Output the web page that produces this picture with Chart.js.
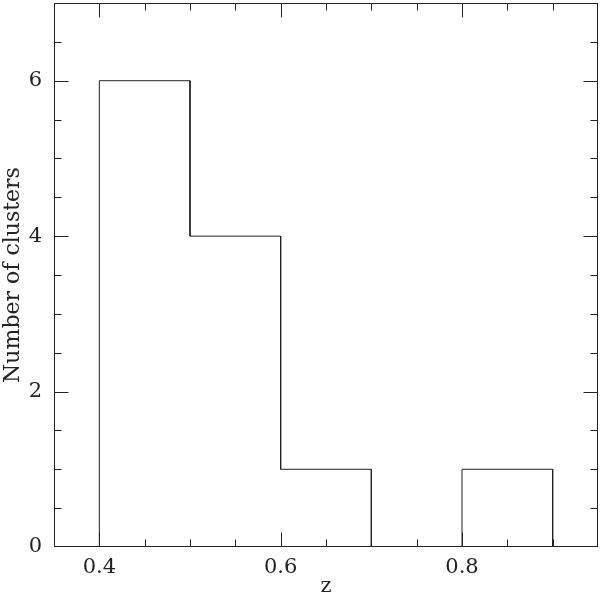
<!DOCTYPE html>
<html lang="en">
<head>
    <meta charset="UTF-8">
    <title>Number of clusters vs z</title>
    <style>
        * { box-sizing: border-box; }
        html, body {
            margin: 0;
            padding: 0;
            background: #ffffff;
            overflow: hidden;
        }
        .chart-container {
            width: 600px;
            height: 594px;
        }
    </style>
</head>
<body>
<div class="chart-container">
    <canvas id="histChart" width="600" height="594"></canvas>
</div>

<script src="https://cdn.jsdelivr.net/npm/chart.js"></script>
<script>
    // Histogram data: bin edges in z and cluster counts per bin
    const binEdges = [0.4, 0.5, 0.6, 0.7, 0.8, 0.9];
    const clusterCounts = [6, 4, 1, 0, 1];

    // Axis ticks
    const xMajorTicks = [0.4, 0.6, 0.8];
    const xMinorTicks = [0.35, 0.45, 0.5, 0.55, 0.65, 0.7, 0.75, 0.85, 0.9, 0.95];
    const yMajorTicks = [0, 2, 4, 6];
    const yMinorTicks = [0.5, 1, 1.5, 2.5, 3, 3.5, 4.5, 5, 5.5, 6.5];

    const inkColor = '#222222';
    const serifFont = "'DejaVu Serif', 'Liberation Serif', serif";

    // Turn the bins into an outline (vertical edges + flat tops)
    const outline = [{ x: binEdges[0], y: 0 }];
    for (let i = 0; i < clusterCounts.length; i++) {
        outline.push({ x: binEdges[i], y: clusterCounts[i] });
        outline.push({ x: binEdges[i + 1], y: clusterCounts[i] });
    }
    outline.push({ x: binEdges[binEdges.length - 1], y: 0 });

    // Box around the plot with inward ticks on all four sides
    const framePlugin = {
        id: 'frame',
        afterDatasetsDraw(chart) {
            const ctx = chart.ctx;
            const area = chart.chartArea;
            const xs = chart.scales.x;
            const ys = chart.scales.y;
            const major = 14, minor = 7;
            const left = area.left + 0.5, right = area.right - 0.5;
            const top = area.top + 0.5, bottom = area.bottom - 0.5;
            ctx.save();
            ctx.strokeStyle = inkColor;
            ctx.lineWidth = 1;
            ctx.strokeRect(left, top, right - left, bottom - top);
            ctx.beginPath();
            const xTick = (v, len) => {
                const px = Math.min(Math.round(xs.getPixelForValue(v)) + 0.5, right);
                ctx.moveTo(px, bottom); ctx.lineTo(px, bottom - len);
                ctx.moveTo(px, top); ctx.lineTo(px, top + len);
            };
            const yTick = (v, len) => {
                const py = Math.min(Math.round(ys.getPixelForValue(v)) + 0.5, bottom);
                ctx.moveTo(left, py); ctx.lineTo(left + len, py);
                ctx.moveTo(right, py); ctx.lineTo(right - len, py);
            };
            xMajorTicks.forEach(v => xTick(v, major));
            xMinorTicks.forEach(v => xTick(v, minor));
            yMajorTicks.forEach(v => yTick(v, major));
            yMinorTicks.forEach(v => yTick(v, minor));
            ctx.stroke();
            ctx.restore();
        }
    };

    const histCtx = document.getElementById('histChart').getContext('2d');
    const histChart = new Chart(histCtx, {
        type: 'line',
        data: {
            datasets: [{
                label: 'Clusters',
                data: outline,
                borderColor: inkColor,
                borderWidth: 1,
                pointRadius: 0,
                tension: 0,
                fill: false
            }]
        },
        options: {
            responsive: false,
            animation: false,
            layout: { padding: { top: 3, right: 2, left: 0, bottom: 0 } },
            plugins: {
                legend: { display: false },
                tooltip: { enabled: false }
            },
            scales: {
                x: {
                    type: 'linear',
                    min: 0.35,
                    max: 0.95,
                    grid: { display: false, drawTicks: false },
                    border: { display: false },
                    afterBuildTicks: (scale) => {
                        scale.ticks = xMajorTicks.map(v => ({ value: v }));
                    },
                    afterFit: (scale) => {
                        scale.height = 47;
                        scale.paddingLeft = 0;
                        scale.paddingRight = 0;
                    },
                    ticks: {
                        color: inkColor,
                        padding: 8,
                        font: { family: serifFont, size: 21 },
                        callback: (v) => v.toFixed(1)
                    },
                    title: {
                        display: true,
                        text: 'z',
                        color: inkColor,
                        padding: { top: 0, bottom: -5 },
                        font: { family: serifFont, size: 21 }
                    }
                },
                y: {
                    min: 0,
                    max: 7,
                    grid: { display: false, drawTicks: false },
                    border: { display: false },
                    afterBuildTicks: (scale) => {
                        scale.ticks = yMajorTicks.map(v => ({ value: v }));
                    },
                    afterFit: (scale) => {
                        scale.width = 54;
                        scale.paddingTop = 0;
                        scale.paddingBottom = 0;
                    },
                    ticks: {
                        color: inkColor,
                        padding: 12,
                        font: { family: serifFont, size: 21 }
                    },
                    title: {
                        display: true,
                        text: 'Number of clusters',
                        color: inkColor,
                        padding: { top: 0, bottom: 0 },
                        font: { family: serifFont, size: 22 }
                    }
                }
            }
        },
        plugins: [framePlugin]
    });
</script>
</body>
</html>
